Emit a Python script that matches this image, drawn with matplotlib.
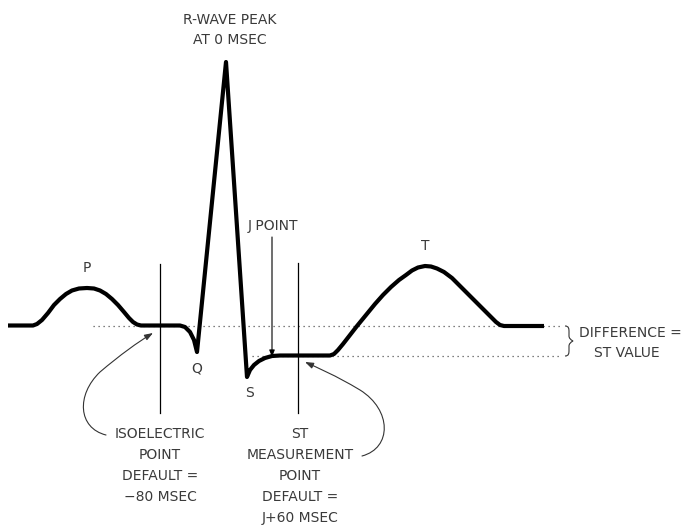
import matplotlib
matplotlib.use("Agg")
import matplotlib.pyplot as plt
from matplotlib.path import Path
from matplotlib.patches import FancyArrowPatch, PathPatch

# ECG waveform points (pixel-space coordinates of the diagram)
ecg_x = [8, 33, 37, 42, 48, 54, 60, 66, 72, 79, 87, 94, 100, 106, 112, 118, 124, 129, 133, 137, 141,
         180, 185, 190, 194, 197,
         226,
         247, 250, 254, 259, 265, 272, 280,
         330, 334, 338, 343, 350, 357, 366, 375, 383, 391, 399, 406, 412, 418, 425, 431,
         437, 444, 452, 460, 468, 476, 484, 491, 496, 500, 504, 544]
ecg_y = [325.5, 325.5, 324, 320, 313, 305, 299, 294, 290.5, 288.5, 288, 288.5, 290.5, 294, 299, 305, 312, 318, 322, 324.5, 325.5,
         325.5, 327, 332, 340, 352,
         62,
         377, 370, 365, 361, 358, 356, 355.5,
         355.5, 354, 350, 344, 335, 326, 315, 304, 295, 287, 280, 275, 270.5, 267.5, 266, 266.5,
         268.5, 272, 278, 286, 294, 302, 310, 317, 322, 325, 326, 326]

iso_level = 326
st_level = 355.5

fig = plt.figure(figsize=(6.9, 5.28), dpi=100)
ax = fig.add_axes([0, 0, 1, 1])
ax.set_xlim(0, 690)
ax.set_ylim(528, 0)
ax.axis("off")

txtc = "#3a3a3a"
fs = 10

# dotted reference lines
ax.plot([93, 562], [iso_level, iso_level], color="#555555", lw=0.9, ls=(0, (1, 3)))
ax.plot([252, 562], [st_level, st_level], color="#555555", lw=0.9, ls=(0, (1, 3)))

# vertical marker lines
ax.plot([160, 160], [264, 413], color="black", lw=0.9)
ax.plot([298, 298], [263, 413], color="black", lw=0.9)

# waveform
ax.plot(ecg_x, ecg_y, color="black", lw=3.0, solid_joinstyle="round", solid_capstyle="butt")

# wave labels
ax.text(87, 268, "P", ha="center", va="center", fontsize=fs, color=txtc)
ax.text(197, 369, "Q", ha="center", va="center", fontsize=fs, color=txtc)
ax.text(249, 393, "S", ha="center", va="center", fontsize=fs, color=txtc)
ax.text(425, 246, "T", ha="center", va="center", fontsize=fs, color=txtc)
ax.text(230, 30, "R-WAVE PEAK\nAT 0 MSEC", ha="center", va="center", fontsize=fs,
        color=txtc, linespacing=1.6)

# J point
ax.text(273, 226, "J POINT", ha="center", va="center", fontsize=fs, color=txtc)
ax.add_patch(FancyArrowPatch((272, 237), (272, 357), arrowstyle="-|>,head_length=4,head_width=1.6",
                             color="black", lw=0.8, shrinkA=0, shrinkB=0))

# bottom labels
y0 = 434
dy = 21
left_lines = ["ISOELECTRIC", "POINT", "DEFAULT =", "\u221280 MSEC"]
right_lines = ["ST", "MEASUREMENT", "POINT", "DEFAULT =", "J+60 MSEC"]
for i, s in enumerate(left_lines):
    ax.text(160, y0 + i * dy, s, ha="center", va="center", fontsize=fs, color=txtc)
for i, s in enumerate(right_lines):
    ax.text(300, y0 + i * dy, s, ha="center", va="center", fontsize=fs, color=txtc)

# curved arrows
p1 = Path([(106, 435), (78, 428), (76, 395), (100, 372), (120, 355), (138, 342), (153, 333)],
          [Path.MOVETO, Path.CURVE4, Path.CURVE4, Path.CURVE4, Path.CURVE4, Path.CURVE4, Path.CURVE4])
ax.add_patch(FancyArrowPatch(path=p1, arrowstyle="-|>,head_length=5,head_width=1.8",
                             color="#333333", lw=0.8))
p2 = Path([(362, 456), (392, 448), (392, 410), (360, 390), (335, 375), (318, 368), (305, 362)],
          [Path.MOVETO, Path.CURVE4, Path.CURVE4, Path.CURVE4, Path.CURVE4, Path.CURVE4, Path.CURVE4])
ax.add_patch(FancyArrowPatch(path=p2, arrowstyle="-|>,head_length=5,head_width=1.8",
                             color="#333333", lw=0.8))

# brace
brace = Path([(565, 326), (569, 326), (569, 329), (569, 332),
              (569, 336), (569, 339), (573, 341),
              (569, 343), (569, 346), (569, 350),
              (569, 353), (569, 356), (565, 356)],
             [Path.MOVETO, Path.CURVE4, Path.CURVE4, Path.CURVE4,
              Path.LINETO, Path.CURVE3, Path.CURVE3,
              Path.CURVE3, Path.CURVE3, Path.LINETO,
              Path.CURVE4, Path.CURVE4, Path.CURVE4])
ax.add_patch(PathPatch(brace, fill=False, edgecolor="#333333", lw=0.8))
ax.text(579, 333, "DIFFERENCE =", ha="left", va="center", fontsize=fs, color=txtc)
ax.text(627, 353, "ST VALUE", ha="center", va="center", fontsize=fs, color=txtc)

fig.savefig("out.png", dpi=100)
